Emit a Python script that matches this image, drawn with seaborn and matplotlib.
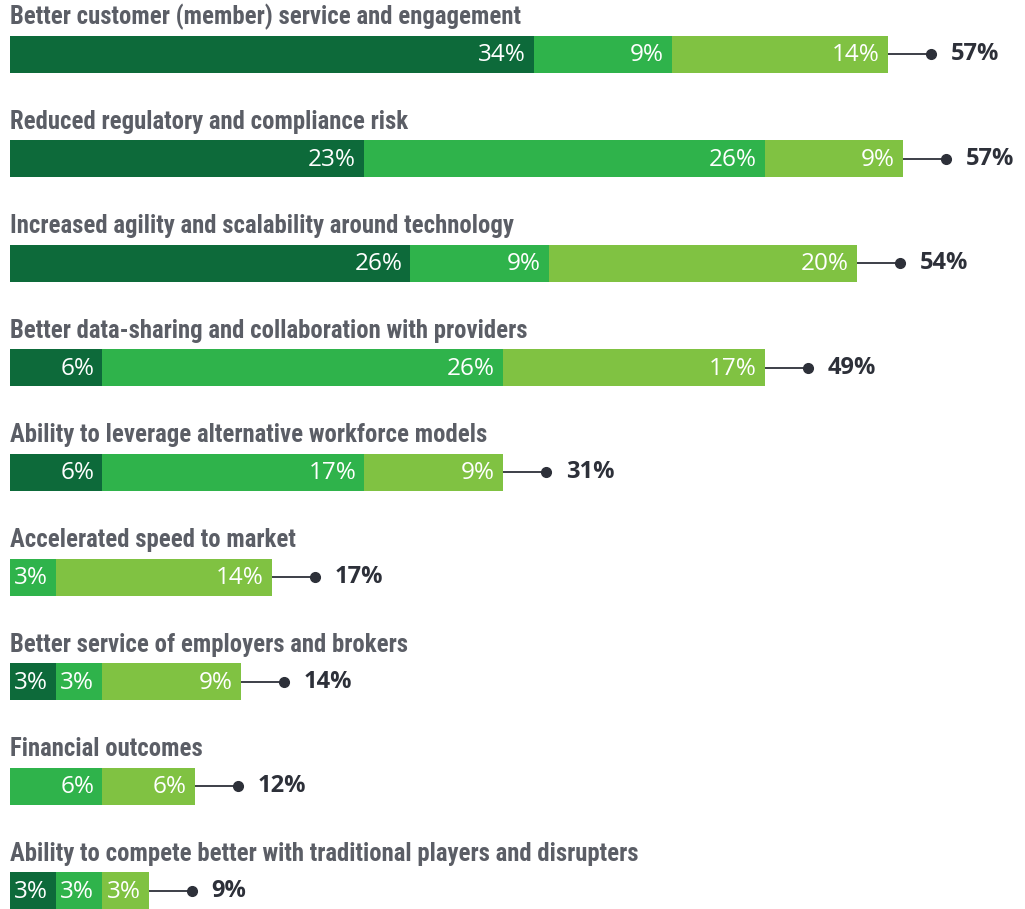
import numpy as np
import pandas as pd
import matplotlib.pyplot as plt
import seaborn as sns

# --- data ---
categories = [
    "Better customer (member) service and engagement",
    "Reduced regulatory and compliance risk",
    "Increased agility and scalability around technology",
    "Better data-sharing and collaboration with providers",
    "Ability to leverage alternative workforce models",
    "Accelerated speed to market",
    "Better service of employers and brokers",
    "Financial outcomes",
    "Ability to compete better with traditional players and disrupters",
]
dark = [34, 23, 26, 6, 6, 0, 3, 0, 3]
mid = [9, 26, 9, 26, 17, 3, 3, 6, 3]
light = [14, 9, 20, 17, 9, 14, 9, 6, 3]
totals = [57, 57, 54, 49, 31, 17, 14, 12, 9]

DARK = "#0d6a3a"
MID = "#2fb34b"
LIGHT = "#80c242"
TITLE_C = "#5b5e66"
TOTAL_C = "#2d3039"

df = pd.DataFrame({"cat": categories, "dark": dark, "mid": mid, "light": light})
df["c1"] = df["dark"]
df["c2"] = df["dark"] + df["mid"]
df["c3"] = df["c2"] + df["light"]

sns.set_style("white")
title_font = ["Roboto Condensed", "Open Sans Condensed", "Lato", "DejaVu Sans"]
num_font = ["Open Sans", "DejaVu Sans"]

W, H = 1025, 909
fig = plt.figure(figsize=(W / 100, H / 100), dpi=100)
ax = fig.add_axes([0, 0, 1, 1])

# pixel geometry
px = 15.4          # pixels per percent
x0 = 10            # left edge of bars in px
row = 104.6        # row spacing in px
top = 54           # first bar centre in px
bar_h = 37 / row

# stacked bars: draw cumulative totals from longest to shortest
for col, color in [("c3", LIGHT), ("c2", MID), ("c1", DARK)]:
    sns.barplot(data=df, x=col, y="cat", color=color, orient="h",
                width=bar_h, saturation=1, linewidth=0, ax=ax)

ax.set_xlim(-x0 / px, (W - x0) / px)
ax.set_ylim((H - top) / row, -top / row)
ax.axis("off")

pad = 8 / px
for i, r in df.iterrows():
    # category title above each bar
    ax.text(0, i - 37 / row, r["cat"], ha="left", va="center",
            fontsize=17.8, fontweight="bold", color=TITLE_C, family=title_font)
    # segment labels
    for val, end in [(r["dark"], r["c1"]), (r["mid"], r["c2"]), (r["light"], r["c3"])]:
        if val > 0:
            ax.text(end - pad, i + 0.01, f"{val}%", ha="right", va="center",
                    fontsize=17.5, fontweight="medium", color="white", family=num_font)
    # leader line, dot and total
    end = r["c3"]
    dot = end + 43 / px
    ax.plot([end, dot], [i, i], color=TOTAL_C, lw=1.3, solid_capstyle="butt")
    ax.plot(dot, i, "o", color=TOTAL_C, ms=7)
    ax.text(end + 63 / px, i, f"{totals[i]}%", ha="left", va="center",
            fontsize=17, fontweight="bold", color=TOTAL_C, family=num_font)

fig.savefig("out.png", dpi=100)
